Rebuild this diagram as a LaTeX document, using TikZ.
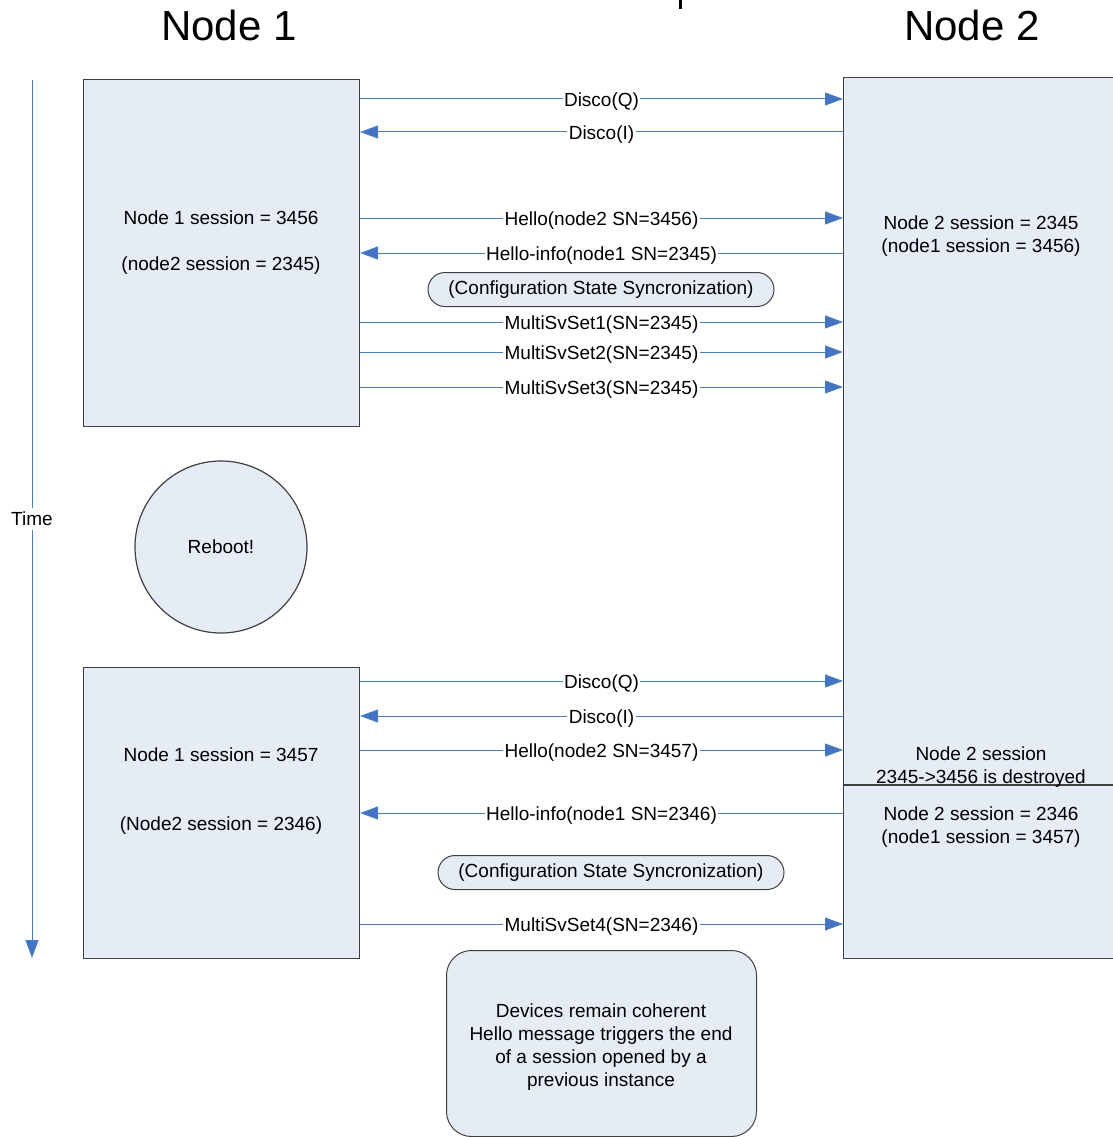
\documentclass[tikz,border=0pt]{standalone}
\usepackage{fontspec}
\setmainfont{Liberation Sans}
\usetikzlibrary{arrows.meta}

\definecolor{boxfill}{RGB}{230,236,246}
\definecolor{boxline}{RGB}{64,64,64}
\definecolor{msgline}{RGB}{74,126,187}
\definecolor{msgtip}{RGB}{68,114,196}

\tikzset{
  every node/.style={font=\fontsize{19}{23}\selectfont, inner sep=0pt},
  lane/.style={draw=boxline, fill=boxfill, line width=1.2pt},
  msg/.style={draw=msgline, line width=1pt,
    -{Triangle[length=18pt,width=13pt,fill=msgtip]}},
  msglabel/.style={fill=white, inner xsep=1.5pt, inner ysep=2pt, yshift=-2.5pt},
  pill/.style={draw=boxline, fill=boxfill, line width=1pt,
    rounded corners=17pt, minimum width=346pt, minimum height=34pt},
  headline/.style={font=\fontsize{42}{48}\selectfont},
  plain/.style={align=center, yshift=-2.5pt},
}

\begin{document}
\begin{tikzpicture}[x=1pt,y=-1pt]
\useasboundingbox (0,0) rectangle (1112,1137);

% headings
\draw[line width=3pt] (680,0) -- (680,9);
\node[headline] (h1) at (229,25) {Node 1};
\node[headline] (h2) at (972,25) {Node 2};

% time axis
\coordinate (t0) at (32,80);
\coordinate (t1) at (32,958);
\draw[msg] (t0) -- node[fill=white, inner ysep=4pt] (time) {Time} (t1);

% node 1, first instance
\node[lane, anchor=north west, minimum width=276pt, minimum height=347pt] (n1a) at (83,79) {};
\node[plain] (n1atext) at (221,240) {Node 1 session = 3456\\[23pt](node2 session = 2345)};

% reboot
\node[lane, circle, minimum size=172pt] (reboot) at (221,547) {Reboot!};

% node 1, second instance
\node[lane, anchor=north west, minimum width=276pt, minimum height=291pt] (n1b) at (83,667) {};
\node[plain] (n1btext) at (221,788.5) {Node 1 session = 3457\\[46pt](Node2 session = 2346)};

% node 2
\node[lane, anchor=north west, minimum width=290pt, minimum height=881pt] (n2) at (843,77) {};
\coordinate (cutL) at (843,785);
\coordinate (cutR) at (1140,785);
\draw[boxline, line width=1.2pt] (cutL) -- (cutR);
\node[plain] (n2atext) at (981,233.5) {Node 2 session = 2345\\(node1 session = 3456)};
\node[plain] (n2dtext) at (981,764.5) {Node 2 session\\2345->3456 is destroyed};
\node[plain] (n2btext) at (981,824.5) {Node 2 session = 2346\\(node1 session = 3457)};

% messages from node 1 to node 2
\foreach \y/\t in {99/Disco(Q), 218/Hello(node2 SN=3456), 322/MultiSvSet1(SN=2345),
                   352/MultiSvSet2(SN=2345), 387/MultiSvSet3(SN=2345),
                   681/Disco(Q), 750/Hello(node2 SN=3457), 924/MultiSvSet4(SN=2346)} {
  \coordinate (L\y) at (360,\y);
  \coordinate (R\y) at (843,\y);
  \draw[msg] (L\y) -- node[msglabel] {\t} (R\y);
}

% messages from node 2 to node 1
\foreach \y/\t in {132/Disco(I), 253/Hello-info(node1 SN=2345),
                   716/Disco(I), 813/Hello-info(node1 SN=2346)} {
  \coordinate (L\y) at (360,\y);
  \coordinate (R\y) at (843,\y);
  \draw[msg] (R\y) -- node[msglabel] {\t} (L\y);
}

% synchronisation phases
\node[pill, yshift=-1.5pt] (sync1) at (601,288) {(Configuration State Syncronization)};
\node[pill, yshift=-1.5pt] (sync2) at (611,871) {(Configuration State Syncronization)};

% closing note
\node[lane, line width=1pt, rounded corners=25pt, anchor=north west,
      minimum width=310pt, minimum height=186pt] (note) at (446,950) {};
\node[plain] (notetext) at (601,1044.5)
  {Devices remain coherent\\Hello message triggers the end\\of a session opened by a\\previous instance};
\end{tikzpicture}
\end{document}
